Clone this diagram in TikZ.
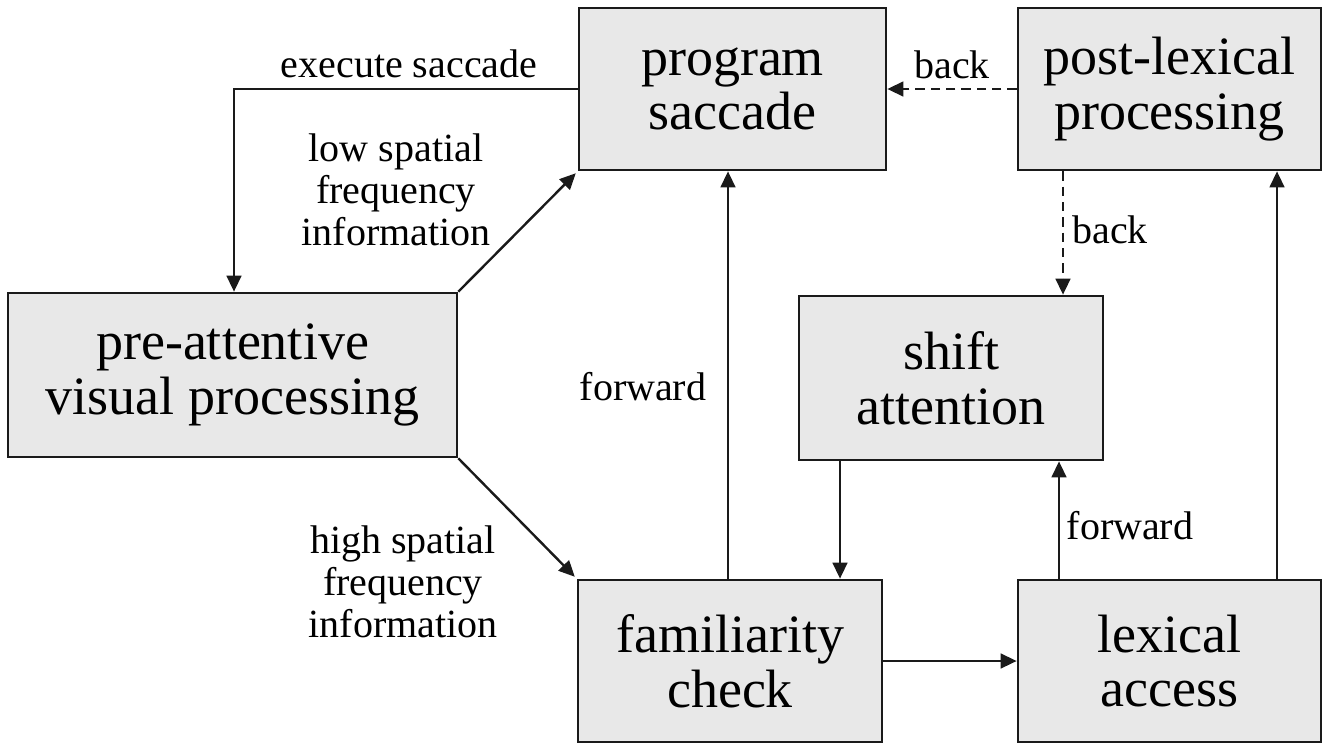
\documentclass[tikz,border=0pt]{standalone}
\usepackage{fontspec}
\setmainfont{Liberation Serif}
\usetikzlibrary{arrows.meta}
\definecolor{boxfill}{HTML}{E8E8E8}
\definecolor{ink}{HTML}{1A1A1A}
\tikzset{
  box/.style={draw=ink, fill=boxfill, line width=2pt, rectangle, align=center,
    inner sep=0pt, font=\fontsize{40.5}{41}\selectfont},
  lbl/.style={align=center, inner sep=0pt, text=black, font=\fontsize{30}{31.5}\selectfont},
  arr/.style={draw=ink, line width=1.8pt, -{Triangle[length=12pt,width=11pt]}},
  darr/.style={arr, dash pattern=on 7pt off 4.5pt}
}
\begin{document}
\begin{tikzpicture}[x=0.75pt,y=-0.75pt]
\useasboundingbox (0,0) rectangle (1331,747);

% processing stages
\node[box, minimum width=230.25pt, minimum height=121.5pt] (prog) at (732.5,89) {program\\saccade};
\node[box, minimum width=227.25pt, minimum height=121.5pt] (post) at (1169.5,89) {post-lexical\\processing};
\node[box, minimum width=336.75pt, minimum height=123pt] (pre) at (232.5,375) {pre-attentive\\visual processing};
\node[box, minimum width=228pt, minimum height=123pt] (shift) at (951,378) {shift\\attention};
\node[box, minimum width=228pt, minimum height=121.5pt] (fam) at (730,661) {familiarity\\check};
\node[box, minimum width=227.25pt, minimum height=121.5pt] (lex) at (1169.5,661) {lexical\\access};

% x positions of the vertical connectors
\coordinate (xes) at (234,0);
\coordinate (xfw) at (728,0);
\coordinate (xbk) at (1063,0);
\coordinate (xsf) at (840,0);
\coordinate (xls) at (1059,0);
\coordinate (xlp) at (1277,0);

% connectors
\draw[arr] (prog.west) -| (pre.north -| xes);
\draw[arr, shorten >=2pt] (pre.north east) -- (prog.south west);
\draw[arr, shorten >=2pt] (pre.south east) -- (fam.north west);
\draw[arr] (fam.north -| xfw) -- (prog.south -| xfw);
\draw[darr] (post.west) -- (prog.east);
\draw[darr] (post.south -| xbk) -- (shift.north -| xbk);
\draw[arr] (shift.south -| xsf) -- (fam.north -| xsf);
\draw[arr] (lex.north -| xls) -- (shift.south -| xls);
\draw[arr] (lex.north -| xlp) -- (post.south -| xlp);
\draw[arr] (fam.east) -- (lex.west);

% connector labels
\node[lbl] (l1) at (409,64) {execute saccade};
\node[lbl] (l2) at (396,190) {low spatial\\frequency\\information};
\node[lbl] (l3) at (403,582) {high spatial\\frequency\\information};
\node[lbl] (l4) at (643,387) {forward};
\node[lbl] (l5) at (952,65) {back};
\node[lbl] (l6) at (1110,230) {back};
\node[lbl] (l7) at (1130,526) {forward};
\end{tikzpicture}
\end{document}
